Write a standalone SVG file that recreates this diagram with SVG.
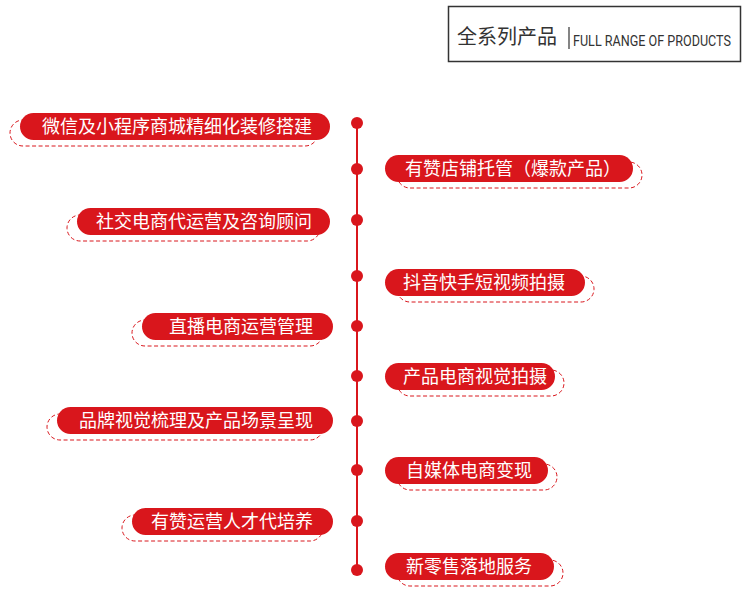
<svg xmlns="http://www.w3.org/2000/svg" width="751" height="607" viewBox="0 0 751 607">
<style>
.p{fill:#d9161c}
.d{fill:none;stroke:#d9161c;stroke-width:1;stroke-dasharray:4 2.5}
.t{fill:#fff;font-family:"Noto Sans CJK SC",sans-serif;font-size:18px}
.l{text-anchor:end}
.dot{fill:#d9161c}
</style>
<rect width="751" height="607" fill="#fff"/>
<g id="title">
<rect x="448.5" y="6.5" width="292" height="55" fill="#fff" stroke="#333" stroke-width="1.5"/>
<text x="457" y="44" font-family="Noto Sans CJK SC,sans-serif" font-size="20" fill="#333">全系列产品</text>
<line x1="569" y1="27" x2="569" y2="49" stroke="#333" stroke-width="1.2"/>
<text x="573" y="46" font-family="Roboto,sans-serif" font-size="15" fill="#333" textLength="158" lengthAdjust="spacingAndGlyphs">FULL RANGE OF PRODUCTS</text>
</g>
<g id="connectors">
<line x1="357" y1="123" x2="357" y2="572" stroke="#d9161c" stroke-width="2"/>
<g class="dot">
<circle cx="357" cy="123" r="6"/><circle cx="357" cy="169" r="6"/><circle cx="357" cy="220" r="6"/><circle cx="357" cy="276" r="6"/><circle cx="357" cy="326" r="6"/><circle cx="357" cy="376" r="6"/><circle cx="357" cy="421" r="6"/><circle cx="357" cy="470" r="6"/><circle cx="357" cy="521" r="6"/><circle cx="357" cy="570" r="6"/>
</g>
</g>
<g id="n1"><rect class="d" x="10" y="120" width="308" height="26" rx="13"/><rect class="p" x="20" y="113" width="310" height="27" rx="13.5"/><text class="t l" x="312" y="133">微信及小程序商城精细化装修搭建</text></g>
<g id="n2"><rect class="d" x="397" y="162" width="245" height="26" rx="13"/><rect class="p" x="385" y="155" width="248" height="27" rx="13.5"/><text class="t" x="405" y="175">有赞店铺托管（爆款产品）</text></g>
<g id="n3"><rect class="d" x="67" y="215" width="253" height="26" rx="13"/><rect class="p" x="77" y="208" width="253" height="27" rx="13.5"/><text class="t l" x="312" y="228">社交电商代运营及咨询顾问</text></g>
<g id="n4"><rect class="d" x="397" y="276" width="197" height="26" rx="13"/><rect class="p" x="385" y="269" width="200" height="27" rx="13.5"/><text class="t" x="403" y="289">抖音快手短视频拍摄</text></g>
<g id="n5"><rect class="d" x="132" y="320" width="191" height="26" rx="13"/><rect class="p" x="142" y="313" width="191" height="27" rx="13.5"/><text class="t l" x="313" y="333">直播电商运营管理</text></g>
<g id="n6"><rect class="d" x="397" y="370" width="167" height="26" rx="13"/><rect class="p" x="385" y="363" width="170" height="27" rx="13.5"/><text class="t" x="403" y="383">产品电商视觉拍摄</text></g>
<g id="n7"><rect class="d" x="47" y="414" width="276" height="26" rx="13"/><rect class="p" x="57" y="407" width="276" height="27" rx="13.5"/><text class="t l" x="313" y="427">品牌视觉梳理及产品场景呈现</text></g>
<g id="n8"><rect class="d" x="397" y="464" width="160" height="26" rx="13"/><rect class="p" x="385" y="457" width="163" height="27" rx="13.5"/><text class="t" x="406" y="477">自媒体电商变现</text></g>
<g id="n9"><rect class="d" x="122" y="515" width="201" height="26" rx="13"/><rect class="p" x="132" y="508" width="201" height="27" rx="13.5"/><text class="t l" x="313" y="528">有赞运营人才代培养</text></g>
<g id="n10"><rect class="d" x="397" y="560" width="166" height="26" rx="13"/><rect class="p" x="385" y="553" width="169" height="27" rx="13.5"/><text class="t" x="406" y="573">新零售落地服务</text></g>
</svg>
